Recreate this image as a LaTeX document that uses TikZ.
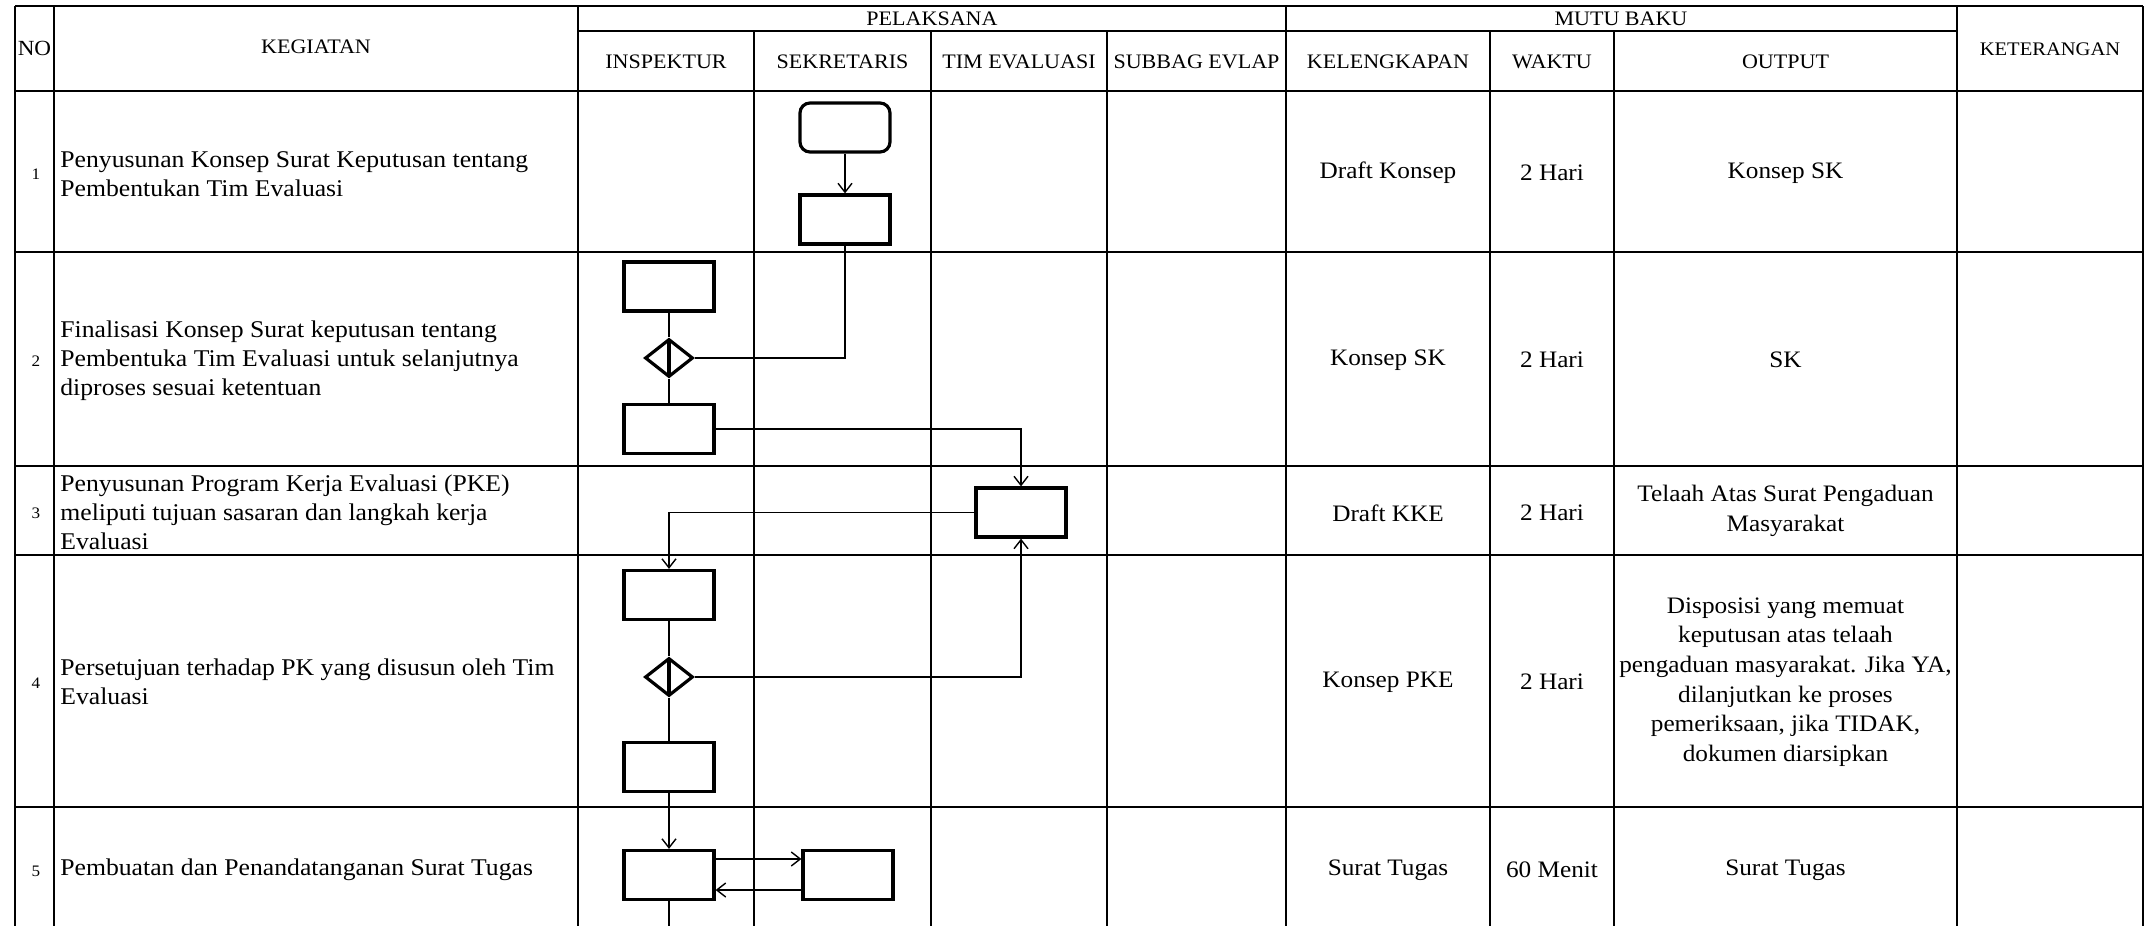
\documentclass[tikz,border=0pt]{standalone}
\usepackage{fontspec}
\setmainfont{Liberation Serif}[FakeStretch=1.07]
\usetikzlibrary{arrows.meta,shapes.geometric}
\begin{document}
\begin{tikzpicture}[x=0.5pt,y=-0.5pt,
  grid/.style={line width=1.3pt},
  hd/.style={font=\fontsize{10.3}{12}\selectfont, inner sep=0pt},
  body/.style={font=\fontsize{12}{14.5}\selectfont, align=left, anchor=west, inner sep=0pt},
  ctr/.style={font=\fontsize{11.8}{14.8}\selectfont, align=center, inner sep=0pt},
  num/.style={font=\fontsize{8}{9}\selectfont, inner sep=0pt},
  proc/.style={draw, line width=1.6pt, minimum width=45pt, minimum height=24.5pt, inner sep=0pt},
  startbox/.style={proc, rounded corners=5pt},
  dec/.style={draw, diamond, line width=1.6pt, minimum width=24pt, minimum height=19pt, inner sep=0pt,
    path picture={\draw[line width=1.6pt] (path picture bounding box.north) -- (path picture bounding box.south);}},
  conn/.style={line width=0.7pt},
  arr/.style={conn, -{Straight Barb[length=4.5pt,width=7pt]}}
]
\useasboundingbox (0,0) rectangle (2154,926);
% table grid
\draw[grid] (15,6) -- (2143,6);
\foreach \x in {15,54,578,1286,1957,2143} \draw[grid] (\x,6) -- (\x,926);
\foreach \x in {754,931,1107,1490,1614} \draw[grid] (\x,31) -- (\x,926);
\draw[grid] (578,31) -- (1957,31);
\foreach \y in {91,252,466,555,807} \draw[grid] (15,\y) -- (2143,\y);

% headers
\node[hd,font=\fontsize{10.8}{12}\selectfont] (hno) at (34.5,48) {NO};
\node[hd] (hkeg) at (316,47) {KEGIATAN};
\node[hd] (hpel) at (932,19) {PELAKSANA};
\node[hd] (hmutu) at (1621,19) {MUTU BAKU};
\node[hd] (hins) at (666,62) {INSPEKTUR};
\node[hd] (hsek) at (842.5,62) {SEKRETARIS};
\node[hd] (htim) at (1019,62) {TIM EVALUASI};
\node[hd] (hsub) at (1196.5,62) {SUBBAG EVLAP};
\node[hd] (hkel) at (1388,62) {KELENGKAPAN};
\node[hd] (hwak) at (1552,62) {WAKTU};
\node[hd] (hout) at (1785.5,62) {OUTPUT};
\node[hd,font=\fontsize{9.6}{11}\selectfont] (hket) at (2050,49) {KETERANGAN};

% numbers
\node[num] (n1) at (36,174) {1};
\node[num] (n2) at (36,361) {2};
\node[num] (n3) at (36,513) {3};
\node[num] (n4) at (36,683) {4};
\node[num] (n5) at (36,871) {5};

% kegiatan
\node[body] (k1) at (60,174) {Penyusunan Konsep Surat Keputusan tentang\\Pembentukan Tim Evaluasi};
\node[body] (k2) at (60,361) {Finalisasi Konsep Surat keputusan tentang\\Pembentuka Tim Evaluasi untuk selanjutnya\\diproses sesuai ketentuan};
\node[body] (k3) at (60,512) {Penyusunan Program Kerja Evaluasi (PKE)\\meliputi tujuan sasaran dan langkah kerja\\Evaluasi};
\node[body] (k4) at (60,682) {Persetujuan terhadap PK yang disusun oleh Tim\\Evaluasi};
\node[body] (k5) at (60,870) {Pembuatan dan Penandatanganan Surat Tugas};

% mutu baku
\node[ctr] (kel1) at (1388,173) {Draft Konsep};
\node[ctr] (wak1) at (1552,173) {2 Hari};
\node[ctr] (out1) at (1785.5,173) {Konsep SK};
\node[ctr] (kel2) at (1388,360) {Konsep SK};
\node[ctr] (wak2) at (1552,360) {2 Hari};
\node[ctr] (out2) at (1785.5,360) {SK};
\node[ctr] (kel3) at (1388,513) {Draft KKE};
\node[ctr] (wak3) at (1552,513) {2 Hari};
\node[ctr] (out3) at (1785.5,511) {Telaah Atas Surat Pengaduan\\Masyarakat};
\node[ctr] (kel4) at (1388,682) {Konsep PKE};
\node[ctr] (wak4) at (1552,682) {2 Hari};
\node[ctr] (out4) at (1785.5,682) {Disposisi yang memuat\\keputusan atas telaah\\pengaduan masyarakat. Jika YA,\\dilanjutkan ke proses\\pemeriksaan, jika TIDAK,\\dokumen diarsipkan};
\node[ctr] (kel5) at (1388,870) {Surat Tugas};
\node[ctr] (wak5) at (1552,870) {60 Menit};
\node[ctr] (out5) at (1785.5,870) {Surat Tugas};

% flow shapes
\node[startbox] (s1) at (845,127.5) {};
\node[proc] (r1) at (845,219.5) {};
\node[proc] (r2a) at (669,286.5) {};
\node[dec] (d2) at (669,358) {};
\node[proc] (r2b) at (669,429) {};
\node[proc] (r3) at (1021,512.5) {};
\node[proc] (r4a) at (669,595) {};
\node[dec] (d4) at (669,677) {};
\node[proc] (r4b) at (669,767) {};
\node[proc] (r5a) at (669,875) {};
\node[proc] (r5b) at (848,875) {};
\coordinate (bot) at (669,926);

% connectors
\draw[arr] (s1.south) -- (r1.north);
\draw[conn] (r1.south) |- (d2.east);
\draw[conn] (r2a.south) -- (d2.north);
\draw[conn] (d2.south) -- (r2b.north);
\draw[arr] (r2b.east) -| (r3.north);
\draw[arr] (r3.west) -| (r4a.north);
\draw[conn] (r4a.south) -- (d4.north);
\draw[arr] (d4.east) -| (r3.south);
\draw[conn] (d4.south) -- (r4b.north);
\draw[arr] (r4b.south) -- (r5a.north);
\coordinate (a1) at ([yshift=8pt]r5a.east);
\draw[arr] (a1) -- (a1 -| r5b.west);
\coordinate (a2) at ([yshift=-7.5pt]r5b.west);
\draw[arr] (a2) -- (a2 -| r5a.east);
\draw[conn] (r5a.south) -- (bot);
\end{tikzpicture}
\end{document}
